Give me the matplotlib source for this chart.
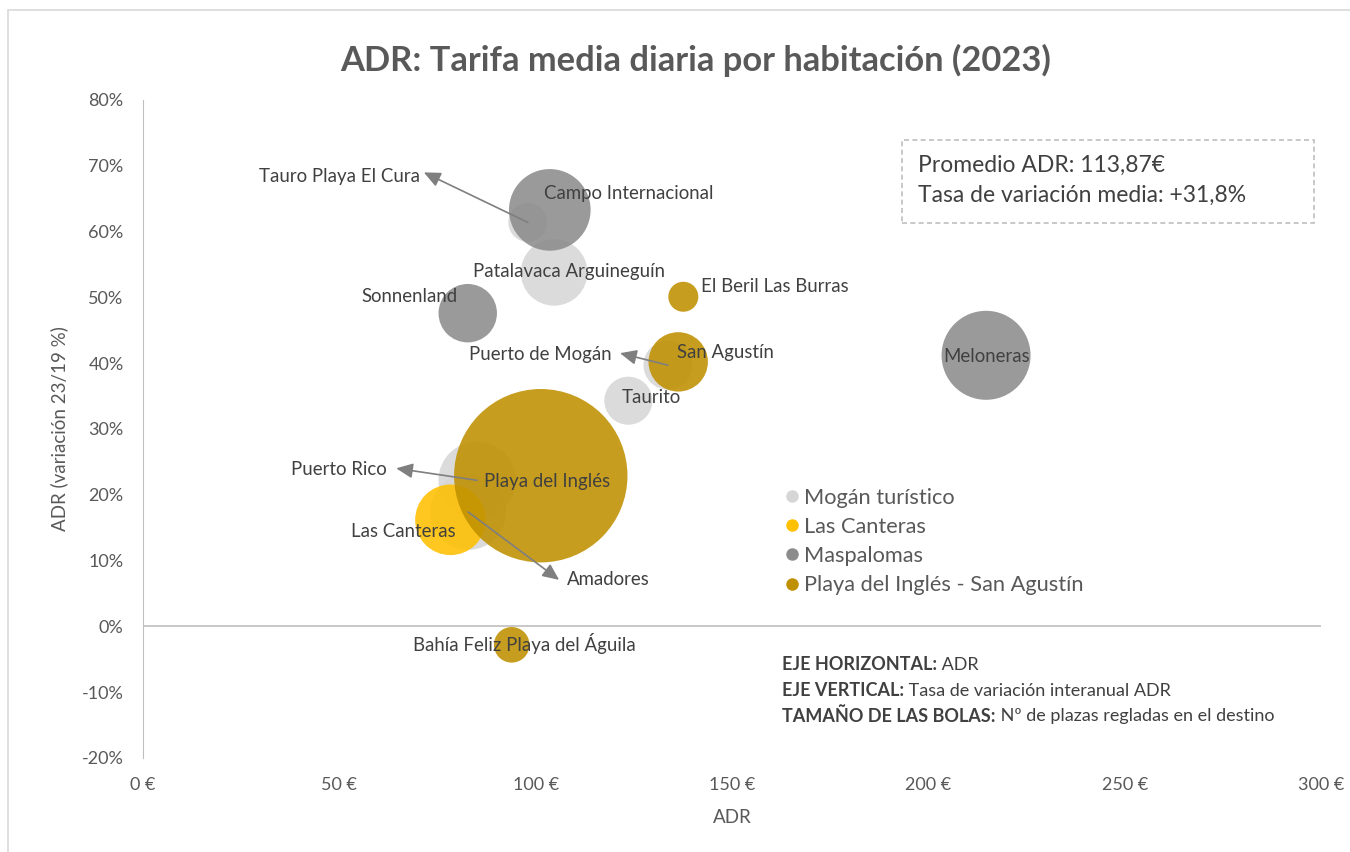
import matplotlib
matplotlib.use("Agg")
import matplotlib.pyplot as plt
from matplotlib.patches import Rectangle
from matplotlib.lines import Line2D

plt.rcParams['font.family'] = ['Lato', 'DejaVu Sans']

# data: ADR (euros), variation 23/19 (%), regulated beds (approx.)
series_names = ["Mogán turístico", "Las Canteras", "Maspalomas", "Playa del Inglés - San Agustín"]
series_colors = ["#D6D6D6", "#FFC000", "#8C8C8C", "#BF9000"]

mogan_names = ["Tauro Playa El Cura", "Patalavaca Arguineguín", "Puerto de Mogán", "Taurito", "Puerto Rico", "Amadores"]
mogan_adr = [98.0, 104.7, 133.7, 123.6, 85.1, 82.8]
mogan_var = [61.4, 53.8, 39.7, 34.3, 22.2, 17.4]
mogan_plazas = [2280, 6650, 3600, 3460, 8990, 8660]

canteras_names = ["Las Canteras"]
canteras_adr = [78.3]
canteras_var = [16.2]
canteras_plazas = [7480]

maspalomas_names = ["Campo Internacional", "Sonnenland", "Meloneras"]
maspalomas_adr = [103.6, 82.7, 214.7]
maspalomas_var = [63.3, 47.6, 41.2]
maspalomas_plazas = [9990, 5120, 11880]

pdi_names = ["Playa del Inglés", "San Agustín", "El Beril Las Burras", "Bahía Feliz Playa del Águila"]
pdi_adr = [101.3, 136.3, 137.6, 93.9]
pdi_var = [22.9, 40.2, 50.1, -2.8]
pdi_plazas = [45100, 5290, 1350, 1900]

promedio_adr = "113,87€"
variacion_media = "+31,8%"

# label placement: (dx, dy) in pixels, horizontal alignment
label_pos = {
    "Tauro Playa El Cura": (-108, 46, "right"),
    "Patalavaca Arguineguín": (15, 1, "center"),
    "Puerto de Mogán": (-56, 11, "right"),
    "Taurito": (23, 3, "center"),
    "Puerto Rico": (-90, 11, "right"),
    "Amadores": (99, -68, "left"),
    "Las Canteras": (5, -12, "right"),
    "Campo Internacional": (-6, 16, "left"),
    "Sonnenland": (-10, 17, "right"),
    "Meloneras": (1, -1, "center"),
    "Playa del Inglés": (6, -6, "center"),
    "San Agustín": (-1, 9, "left"),
    "El Beril Las Burras": (18, 10, "left"),
    "Bahía Feliz Playa del Águila": (13, 1, "center"),
}
# leader lines: arrow tip offset from the bubble centre, in pixels
leader_tips = {
    "Tauro Playa El Cura": (-104, 50),
    "Puerto de Mogán": (-48, 12),
    "Puerto Rico": (-81, 12),
    "Amadores": (91, -68),
}

W, H = 1350, 852
fig = plt.figure(figsize=(W / 100, H / 100), dpi=100)
ax = fig.add_axes([143 / W, 1 - 758 / H, (1321 - 143) / W, (758 - 100) / H])

grey_txt = "#595959"
dark_txt = "#404040"
groups = [
    (mogan_names, mogan_adr, mogan_var, mogan_plazas),
    (canteras_names, canteras_adr, canteras_var, canteras_plazas),
    (maspalomas_names, maspalomas_adr, maspalomas_var, maspalomas_plazas),
    (pdi_names, pdi_adr, pdi_var, pdi_plazas),
]

z = 2
for (names, xs, ys, pl), col in zip(groups, series_colors):
    # bigger bubbles first so small ones stay on top
    order = sorted(range(len(xs)), key=lambda i: -pl[i])
    for i in order:
        ax.scatter(xs[i], ys[i], s=pl[i] * 0.3456, color=col, alpha=0.88,
                   edgecolors="none", zorder=z)
        z += 1

for names, xs, ys, pl in groups:
    for n, x, y in zip(names, xs, ys):
        dx, dy, ha = label_pos[n]
        ax.annotate(n, (x, y), xytext=(dx, dy), textcoords="offset pixels",
                    ha=ha, va="center", fontsize=13.4, color=dark_txt, zorder=100)
        if n in leader_tips:
            tx, ty = leader_tips[n]
            ax.annotate("", (x, y), xytext=(tx, ty), textcoords="offset pixels",
                        arrowprops=dict(arrowstyle="<|-,head_length=1.0,head_width=0.45",
                                        color="#7F7F7F", lw=1.2, shrinkA=0, shrinkB=0),
                        zorder=100)

ax.set_xlim(0, 300)
ax.set_ylim(-20, 80)
ax.set_xticks(range(0, 301, 50))
ax.set_xticklabels([f"{v} €" for v in range(0, 301, 50)])
ax.set_yticks(range(-20, 81, 10))
ax.set_yticklabels([f"{v}%" for v in range(-20, 81, 10)])
ax.tick_params(length=0, labelsize=13, colors=grey_txt)
ax.tick_params(axis="x", pad=14)
ax.tick_params(axis="y", pad=14)
for s in ["top", "right", "bottom"]:
    ax.spines[s].set_visible(False)
ax.spines["left"].set_color("#BFBFBF")
ax.axhline(0, color="#BFBFBF", lw=1.2, zorder=1)

ax.set_xlabel("ADR", fontsize=13.5, color=grey_txt, labelpad=11)
ax.set_ylabel("ADR (variación 23/19 %)", fontsize=13.5, color=grey_txt, labelpad=10)

fig.text(696 / W, 1 - 60 / H, "ADR: Tarifa media diaria por habitación (2023)",
         ha="center", va="center", fontsize=24.8, fontweight="bold", color=grey_txt)

# legend
handles = [Line2D([], [], marker="o", linestyle="none", markersize=9,
                  markerfacecolor=c, markeredgecolor="none") for c in series_colors]
fig.legend(handles, series_names, loc="upper left",
           bbox_to_anchor=(772 / W, 1 - 479 / H), frameon=False,
           fontsize=15.7, labelcolor=grey_txt, handletextpad=0.05,
           handlelength=1.0, labelspacing=0.42, borderaxespad=0)

# info box
fig.patches.append(Rectangle((902 / W, 1 - 223 / H), (1314 - 902) / W, (223 - 140) / H,
                             transform=fig.transFigure, fill=False,
                             edgecolor="#BFBFBF", lw=1.2, linestyle=(0, (3, 2))))
fig.text(918 / W, 1 - 165 / H, f"Promedio ADR: {promedio_adr}", fontsize=16.5,
         color=dark_txt, va="center")
fig.text(918 / W, 1 - 195 / H, f"Tasa de variación media: {variacion_media}", fontsize=16.5,
         color=dark_txt, va="center")

# notes
renderer = fig.canvas.get_renderer()
notes = [("EJE HORIZONTAL:", " ADR"),
         ("EJE VERTICAL:", " Tasa de variación interanual ADR"),
         ("TAMAÑO DE LAS BOLAS:", " Nº de plazas regladas en el destino")]
for k, (b, r) in enumerate(notes):
    yy = 1 - (665 + k * 25.5) / H
    t = fig.text(782 / W, yy, b, fontsize=13, fontweight="bold", color=dark_txt, va="center")
    bb = t.get_window_extent(renderer)
    fig.text(bb.x1 / W, yy, r, fontsize=13, color=dark_txt, va="center")

# outer chart border
fig.patches.append(Rectangle((8 / W, -10 / H), (W + 10) / W, (852 - 10 + 10) / H,
                             transform=fig.transFigure, fill=False,
                             edgecolor="#D9D9D9", lw=1.2))

fig.savefig("out.png", dpi=100)
